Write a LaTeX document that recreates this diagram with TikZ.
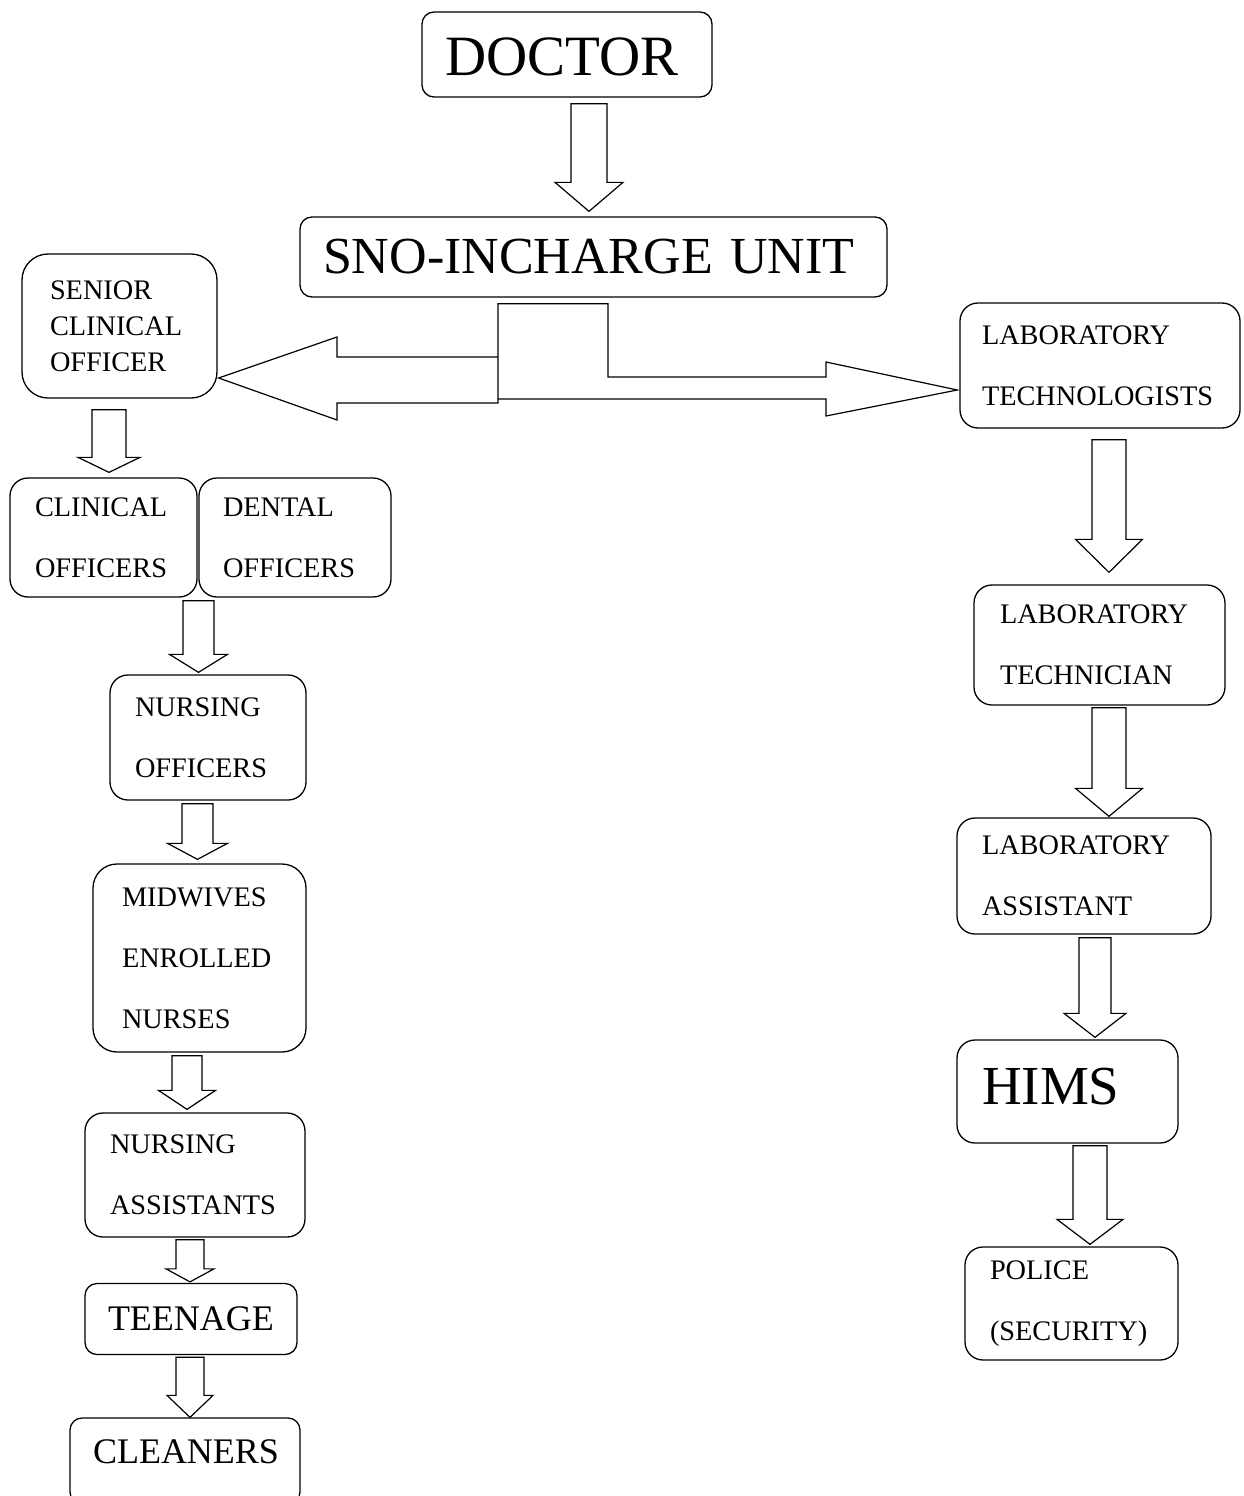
\documentclass[tikz,border=0pt]{standalone}
\usepackage{fontspec}
\setmainfont{Liberation Serif}
\usetikzlibrary{calc}
\tikzset{
  box/.style={draw, line width=1.3pt, rounded corners=18pt, align=left, inner ysep=0pt,
    font=\fontsize{28.3}{61}\selectfont},
  blockarrow/.style={draw, line width=1.2pt, line join=miter},
}
% #1 src, #2 dst, #3 x centre, #4 shaft half width, #5 head half width,
% #6 head length, #7 gap below src, #8 gap above dst
\newcommand\barrow[8]{%
  \draw[blockarrow] let \p1=(#1.south), \p2=(#2.north) in
    (#3pt-#4pt,\y1-#7pt) -- (#3pt+#4pt,\y1-#7pt)
    -- (#3pt+#4pt,\y2+#8pt+#6pt) -- (#3pt+#5pt,\y2+#8pt+#6pt)
    -- (#3pt,\y2+#8pt)
    -- (#3pt-#5pt,\y2+#8pt+#6pt) -- (#3pt-#4pt,\y2+#8pt+#6pt) -- cycle;}

\begin{document}
\begin{tikzpicture}[x=1pt,y=-1pt]
\useasboundingbox[fill=white] (0,0) rectangle (1243,1496);

% top
\node[box, rounded corners=12pt, minimum width=290pt, minimum height=85pt, inner xsep=23pt,
  text width=244pt, text height=43pt, font=\fontsize{57}{60}\selectfont] (doctor) at (567,54.5) {DOCTOR};
\node[box, rounded corners=12pt, minimum width=587pt, minimum height=80pt, inner xsep=23pt,
  text width=541pt, font=\fontsize{52}{56}\selectfont] (sno) at (593.5,257) {SNO-INCHARGE UNIT};

% left column
\node[box, rounded corners=26pt, minimum width=195pt, minimum height=144pt, inner xsep=28pt,
  text width=139pt, font=\fontsize{28.3}{36}\selectfont] (sco) at (119.5,326)
  {SENIOR\\CLINICAL\\OFFICER\par\vspace*{10pt}};
\node[box, minimum width=187pt, minimum height=119pt, inner xsep=25pt, text width=137pt]
  (clin) at (103.5,537.5) {CLINICAL\\OFFICERS};
\node[box, minimum width=192pt, minimum height=119pt, inner xsep=24pt, text width=144pt]
  (dent) at (295,537.5) {DENTAL\\OFFICERS};
\node[box, minimum width=196pt, minimum height=125pt, inner xsep=25pt, text width=146pt]
  (nurso) at (208,737.5) {NURSING\\OFFICERS};
\node[box, rounded corners=24pt, minimum width=213pt, minimum height=188pt, inner xsep=29pt,
  text width=155pt] (midw) at (199.5,958) {MIDWIVES\\ENROLLED\\NURSES};
\node[box, minimum width=220pt, minimum height=124pt, inner xsep=25pt, text width=170pt]
  (nass) at (195,1175) {NURSING\\ASSISTANTS};
\node[box, rounded corners=12pt, minimum width=212pt, minimum height=71pt, inner xsep=23pt,
  text width=166pt, font=\fontsize{36}{40}\selectfont] (teen) at (191,1319) {TEENAGE};
\node[box, rounded corners=12pt, minimum width=230pt, minimum height=86pt, inner xsep=23pt,
  text width=184pt, text depth=18pt, font=\fontsize{36}{40}\selectfont] (clean) at (185,1461) {CLEANERS};

% right column
\node[box, minimum width=280pt, minimum height=125pt, inner xsep=22pt, text width=236pt]
  (lt) at (1100,365.5) {LABORATORY\\TECHNOLOGISTS};
\node[box, minimum width=251pt, minimum height=120pt, inner xsep=26pt, text width=199pt]
  (ltech) at (1099.5,645) {LABORATORY\\TECHNICIAN};
\node[box, minimum width=254pt, minimum height=116pt, inner xsep=25pt, text width=204pt]
  (la) at (1084,876) {LABORATORY\\ASSISTANT};
\node[box, minimum width=221pt, minimum height=103pt, inner xsep=25pt, text width=171pt,
  text depth=10pt, font=\fontsize{55}{58}\selectfont] (hims) at (1067.5,1091.5) {HIMS};
\node[box, minimum width=213pt, minimum height=113pt, inner xsep=25pt, text width=163pt]
  (police) at (1071.5,1303.5) {POLICE\\(SECURITY)};

% block arrows
\barrow{doctor}{sno}{589}{18}{34}{29}{6}{5}
\barrow{sco}{clin}{109}{17}{31}{15}{11}{5}
\barrow{clin}{nurso}{198.5}{15.5}{29}{18}{3}{2}
\barrow{nurso}{midw}{197.5}{15.5}{30}{16}{3}{4}
\barrow{midw}{nass}{187}{15}{28.5}{19}{3}{3}
\barrow{nass}{teen}{190}{14}{24}{13}{2}{1}
\barrow{teen}{clean}{190}{14}{23}{22}{2}{0}
\barrow{lt}{ltech}{1109}{17}{33.5}{33}{11}{12}
\barrow{ltech}{la}{1109}{17}{33.5}{28}{2}{1}
\barrow{la}{hims}{1095}{16}{31}{24}{3}{2}
\barrow{hims}{police}{1090}{17}{33}{25}{2}{2}

% split connector from SNO to both sides
\draw[blockarrow] let \p1=(sco.east), \p2=(lt.west), \p3=(sno.south) in
  (\x1+1pt,-378pt) -- (337pt,-337pt) -- (337pt,-357pt) -- (498pt,-357pt)
  -- (498pt,\y3-6pt) -- (608pt,\y3-6pt) -- (608pt,-377pt) -- (826pt,-377pt)
  -- (826pt,-362pt) -- (\x2-2pt,-390pt) -- (826pt,-416pt) -- (826pt,-399pt)
  -- (498pt,-399pt) -- (498pt,-403pt) -- (337pt,-403pt) -- (337pt,-420pt) -- cycle
  (498pt,-357pt) -- (498pt,-399pt);
\end{tikzpicture}
\end{document}
